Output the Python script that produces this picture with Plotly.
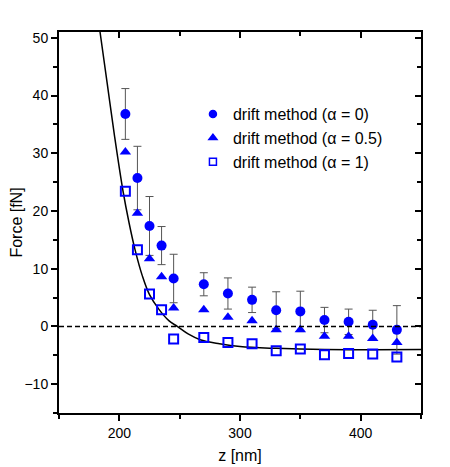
import plotly.graph_objects as go

# z positions (nm) shared by all three data series
z = [205, 215, 225, 235, 245, 270, 290, 310, 330, 350, 370, 390, 410, 430]

# drift method, alpha = 0 (with error bars)
f_a0 = [36.8, 25.7, 17.4, 14.0, 8.3, 7.3, 5.7, 4.6, 2.8, 2.6, 1.1, 0.8, 0.3, -0.6]
err_a0 = [4.4, 5.5, 5.1, 3.3, 4.2, 2.0, 2.7, 2.2, 3.2, 3.5, 2.2, 2.2, 2.5, 4.2]

# drift method, alpha = 0.5
f_a05 = [30.2, 19.6, 11.7, 8.6, 3.2, 2.9, 1.6, 1.0, -0.6, -0.6, -1.7, -1.7, -2.1, -2.8]

# drift method, alpha = 1
f_a1 = [23.4, 13.3, 5.6, 2.9, -2.2, -1.9, -2.8, -3.0, -4.2, -3.9, -4.9, -4.7, -4.8, -5.3]

# theory curve
curve_z = [184, 190, 196, 203, 208, 213, 219, 225, 233, 241, 248, 257, 267, 283, 300, 330, 370, 450]
curve_f = [51, 42, 33, 23.5, 18, 13.3, 8.8, 5.5, 2.9, 1.0, 0, -1.3, -2.3, -3.0, -3.5, -3.8, -4.0, -4.0]

labels = ['drift method (\u03b1 = 0)', 'drift method (\u03b1 = 0.5)', 'drift method (\u03b1 = 1)']

BLUE = '#0000ff'
FONT = 'Liberation Sans, Arial, sans-serif'

fig = go.Figure()

fig.add_trace(go.Scatter(
    x=curve_z, y=curve_f, mode='lines', line=dict(color='black', width=1.5, shape='spline'),
    showlegend=False, hoverinfo='skip'
))

fig.add_trace(go.Scatter(
    x=z, y=f_a0, mode='markers',
    marker=dict(symbol='circle', size=10, color=BLUE),
    error_y=dict(type='data', array=err_a0, visible=True, color='#555555', thickness=1, width=4),
    showlegend=False
))
fig.add_trace(go.Scatter(
    x=z, y=f_a05, mode='markers',
    marker=dict(symbol='triangle-up', size=10, color=BLUE),
    showlegend=False
))
fig.add_trace(go.Scatter(
    x=z, y=f_a1, mode='markers',
    marker=dict(symbol='square-open', size=9, color=BLUE, line=dict(width=2, color=BLUE)),
    showlegend=False
))

# legend entries with smaller symbols
for sym, lab in zip(['circle', 'triangle-up', 'square-open'], labels):
    fig.add_trace(go.Scatter(
        x=[None], y=[None], mode='markers', name=lab,
        marker=dict(symbol=sym, size=7, color=BLUE, line=dict(width=1.5, color=BLUE))
    ))

# dummy trace so the top/right axes get drawn
fig.add_trace(go.Scatter(x=[None], y=[None], xaxis='x2', yaxis='y2',
                         showlegend=False, hoverinfo='skip'))

fig.add_shape(type='line', xref='paper', x0=0, x1=1, yref='y', y0=0, y1=0,
              line=dict(color='black', width=1.5, dash='5px,3px'))

axis_common = dict(showgrid=False, zeroline=False, showline=True, linecolor='black',
                   linewidth=2, tickcolor='black', tickwidth=1.5, automargin=False)

# page body adds an 8px offset, so the figure is 8px smaller than the window
fig.update_layout(
    width=442, height=459,
    margin=dict(l=51, r=29, t=24, b=54),
    paper_bgcolor='white', plot_bgcolor='white',
    font=dict(family=FONT, size=14, color='black'),
    xaxis=dict(range=[150, 450], dtick=100, tick0=0, ticks='outside', ticklen=6,
               minor=dict(dtick=50, tick0=0, ticks='outside', ticklen=4, tickcolor='black'),
               title=dict(text='z [nm]', font=dict(size=16), standoff=10),
               **axis_common),
    yaxis=dict(range=[-15, 51], dtick=10, tick0=0, ticks='outside', ticklen=6,
               minor=dict(dtick=5, tick0=0, ticks='outside', ticklen=4, tickcolor='black'),
               title=dict(text='Force [fN]', font=dict(size=16), standoff=9),
               **axis_common),
    xaxis2=dict(range=[150, 450], overlaying='x', side='top', dtick=100, tick0=0,
                ticks='inside', ticklen=6, showticklabels=False,
                minor=dict(dtick=50, tick0=0, ticks='inside', ticklen=4, tickcolor='black'),
                **axis_common),
    yaxis2=dict(range=[-15, 51], overlaying='y', side='right', dtick=10, tick0=0,
                ticks='inside', ticklen=6, showticklabels=False,
                minor=dict(dtick=5, tick0=0, ticks='inside', ticklen=4, tickcolor='black'),
                **axis_common),
    legend=dict(x=0.37, y=0.829, xanchor='left', yanchor='top',
                bgcolor='rgba(0,0,0,0)', font=dict(size=16)),
)

fig.write_html('out.html')
